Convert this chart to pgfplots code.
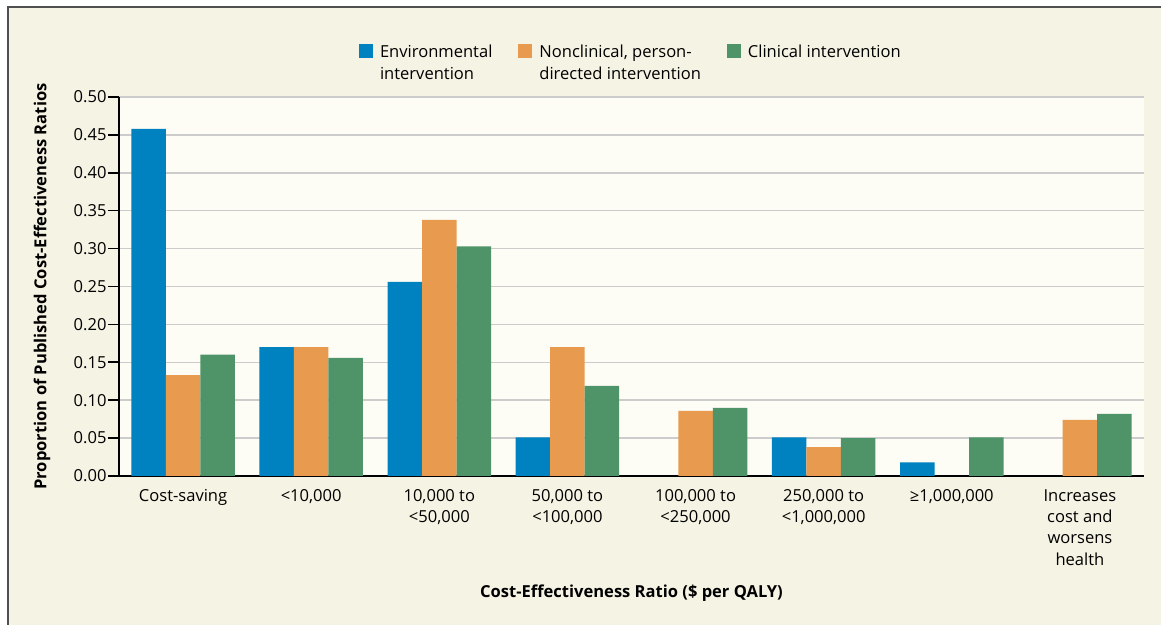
\documentclass[border=0pt]{standalone}
\usepackage{fontspec}
\setmainfont{Open Sans}
\usepackage{pgfplots}
\pgfplotsset{compat=1.18}

\definecolor{outerbg}{RGB}{245,243,227}
\definecolor{innerbg}{RGB}{253,253,245}
\definecolor{framegray}{RGB}{80,80,80}
\definecolor{gridgray}{RGB}{204,204,204}
\definecolor{cblue}{RGB}{0,130,192}
\definecolor{corange}{RGB}{232,155,78}
\definecolor{cgreen}{RGB}{78,148,104}

\newcommand\ff{\fontsize{16.6}{21.4}\selectfont}

\begin{document}
\begin{tikzpicture}
% page background and frame
\fill[white] (0bp,0bp) rectangle (1161bp,625bp);
\fill[outerbg] (8bp,0bp) rectangle (1161bp,618bp);
\draw[framegray, line width=2.2bp] (8bp,0bp) -- (8bp,618bp) -- (1161bp,618bp);

\begin{axis}[
    at={(119bp,149bp)}, anchor=south west,
    scale only axis,
    width=1025bp, height=379bp,
    axis background/.style={fill=innerbg},
    ybar=0pt,
    bar width=34.5bp,
    xmin=-0.5, xmax=7.5,
    ymin=0, ymax=0.5,
    xtick={0,...,7},
    xticklabels={{Cost-saving},{<10,000},{10,000 to\\<50,000},{50,000 to\\<100,000},{100,000 to\\<250,000},{250,000 to\\<1,000,000},{≥1,000,000},{Increases\\cost and\\worsens\\health}},
    ytick={0,0.05,0.10,0.15,0.20,0.25,0.30,0.35,0.40,0.45,0.50},
    tick label style={font=\ff},
    xticklabel style={align=center, yshift=1bp},
    yticklabel style={xshift=2bp, /pgf/number format/.cd, fixed, fixed zerofill, precision=2, assume math mode=true},
    axis x line*=bottom,
    axis y line*=left,
    axis line style={black, line width=1.6bp, -},
    x tick style={draw=none},
    y tick style={black, line width=1.6bp},
    tick align=outside,
    major tick length=11bp,
    ymajorgrids,
    grid style={gridgray, line width=1.5bp},
    xlabel={\bfseries Cost-Effectiveness Ratio (\$ per QALY)},
    xlabel style={font=\ff, at={(axis description cs:0.5,0)}, anchor=base, yshift=-121bp},
    ylabel={\bfseries Proportion of Published Cost-Effectiveness Ratios},
    ylabel style={font=\ff, at={(axis description cs:-0.0751,0.5)}, anchor=center},
    legend columns=3,
    legend style={font=\ff, at={(axis description cs:0.234,1.1425)}, anchor=north west,
        draw=none, fill=none, inner sep=0pt,
        cells={anchor=north west, align=left},
        /tikz/every odd column/.append style={column sep=5bp},
        /tikz/every even column/.append style={column sep=24bp}},
    legend image code/.code={\fill[#1] (0bp,-1bp) rectangle (14bp,-15bp);},
]
\addplot[fill=cblue, draw=none] coordinates {(0,0.458) (1,0.170) (2,0.256) (3,0.051) (5,0.051) (6,0.018)};
\addlegendentry{Environmental\\intervention}
\addplot[fill=corange, draw=none] coordinates {(0,0.133) (1,0.170) (2,0.338) (3,0.170) (4,0.086) (5,0.038) (7,0.074)};
\addlegendentry{Nonclinical, person-\\directed intervention}
\addplot[fill=cgreen, draw=none] coordinates {(0,0.160) (1,0.156) (2,0.303) (3,0.119) (4,0.090) (5,0.050) (6,0.051) (7,0.082)};
\addlegendentry{Clinical intervention}
\end{axis}
\pgfresetboundingbox
\useasboundingbox (0bp,0bp) rectangle (1161bp,625bp);
\end{tikzpicture}
\end{document}
